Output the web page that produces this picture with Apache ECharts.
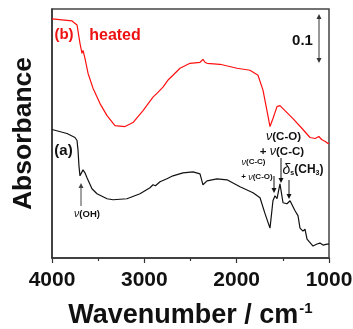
<!DOCTYPE html>
<html><head><meta charset="utf-8">
<script src="https://cdn.jsdelivr.net/npm/echarts@6/dist/echarts.min.js"></script>
<style>html,body{margin:0;padding:0;background:#fff}#c{width:353px;height:329px}</style>
</head><body><div id="c"></div>
<script>
// wavenumber (cm-1), absorbance
var heatedWn  = [4000,3783,3729,3697,3675,3664,3643,3610,3556,3480,3404,3318,3209,3123,3014,2906,2850,2798,2740,2690,2614,2505,2397,2365,2343,2321,2181,1996,1856,1769,1715,1672,1639,1607,1563,1531,1477,1390,1292,1206,1150,1130,1110,1098,1080,1065,1040,1011,1000];
var heatedAbs = [0.480,0.476,0.468,0.431,0.411,0.417,0.401,0.371,0.341,0.310,0.286,0.266,0.264,0.272,0.296,0.323,0.333,0.343,0.358,0.367,0.381,0.391,0.393,0.399,0.393,0.391,0.389,0.381,0.377,0.367,0.337,0.296,0.264,0.280,0.304,0.306,0.296,0.280,0.260,0.242,0.240,0.236,0.244,0.246,0.238,0.240,0.234,0.230,0.230];
var pristineWn  = [4000,3838,3751,3729,3718,3708,3697,3686,3664,3643,3621,3567,3513,3404,3339,3188,3047,2939,2906,2880,2830,2755,2690,2581,2473,2397,2365,2321,2213,2105,1964,1823,1747,1693,1639,1607,1585,1563,1531,1498,1455,1422,1401,1368,1336,1314,1282,1260,1238,1173,1130,1098,1065,1022,1000];
var pristineAbs = [0.258,0.250,0.242,0.236,0.216,0.185,0.165,0.169,0.177,0.171,0.161,0.139,0.129,0.119,0.117,0.119,0.129,0.141,0.147,0.145,0.153,0.159,0.165,0.171,0.173,0.169,0.147,0.155,0.159,0.157,0.143,0.131,0.121,0.089,0.060,0.115,0.125,0.119,0.149,0.111,0.109,0.115,0.111,0.095,0.085,0.060,0.054,0.058,0.038,0.024,0.028,0.030,0.026,0.028,0.028];
var xTicks = [1000, 4000, 1000]; // min, max, interval
var yRange = [0, 0.5];

function pairs(a, b){ return a.map(function(v,i){ return [v, b[i]]; }); }

var FF = 'Liberation Sans, Arial, sans-serif';
var chart = echarts.init(document.getElementById('c'));

function arrow(x, yTail, yHead, color){
  var dir = yHead > yTail ? 1 : -1;
  return [
    {type:'line', shape:{x1:x,y1:yTail,x2:x,y2:yHead - dir*4}, style:{stroke:color,lineWidth:1}},
    {type:'polygon', shape:{points:[[x-2.5,yHead-dir*5],[x+2.5,yHead-dir*5],[x,yHead]]}, style:{fill:color}}
  ];
}
function txt(t, x, y, size, color, extra){
  var s = {text:t, x:x, y:y, align:'center', verticalAlign:'middle', fontFamily:FF, fontWeight:'bold', fontSize:size, fill:color};
  if (extra) for (var k in extra) s[k]=extra[k];
  return {type:'text', style:s, z:10};
}

var g = [];
g.push(txt('(b)', 64, 35, 15, '#ee1111'));
g.push(txt('heated', 115, 36, 16, '#ee1111'));
g.push(txt('(a)', 63.5, 151, 15, '#111'));
g.push(txt('0.1', 302.5, 41, 15, '#111'));
g = g.concat(arrow(319, 38, 14, '#333')).concat(arrow(319, 38, 63, '#333'));
var nuRich = function(sz){ return { n:{fontStyle:'italic', fontWeight:'normal', fontSize:sz, fontFamily:FF} }; };
g.push(txt('{n|ν}(OH)', 87, 214, 9.5, '#111', {rich:nuRich(10.5)}));
g = g.concat(arrow(81, 206, 183, '#444'));
g.push(txt('{n|ν}(C-O)', 283.5, 137, 11.5, '#111', {rich:nuRich(12.5)}));
g.push(txt('+ {n|ν}(C-C)', 282, 152, 11.5, '#111', {rich:nuRich(12.5)}));
g = g.concat(arrow(281, 158, 183, '#111'));
g.push(txt('{n|ν}(C-C)', 253.5, 162, 8, '#111', {rich:nuRich(9)}));
g.push(txt('+ {n|ν}(C-O)', 257, 177, 8, '#111', {rich:nuRich(9)}));
g = g.concat(arrow(274, 176, 193, '#111'));
g.push(txt('{d|δ}{s|s}(CH{s|3})', 303, 170, 12, '#111', {rich:{
  d:{fontStyle:'italic', fontWeight:'normal', fontSize:14, fontFamily:FF},
  s:{fontSize:7, fontWeight:'bold', fontFamily:FF, verticalAlign:'bottom', padding:[6,0,0,0]}
}}));
g = g.concat(arrow(289, 180, 199, '#111'));

chart.setOption({
  animation:false,
  grid:{left:52, right:24, top:9, bottom:71, show:true, borderColor:'#444', borderWidth:1.5, containLabel:false, outerBoundsMode:'none'},
  xAxis:{
    type:'value', inverse:true, min:xTicks[0], max:xTicks[1], interval:xTicks[2],
    axisLine:{show:true, lineStyle:{color:'#333', width:1.5}},
    axisTick:{show:true, length:5, lineStyle:{color:'#333', width:1.2}},
    minorTick:{show:true, splitNumber:2, length:3, lineStyle:{color:'#333', width:1.2}},
    splitLine:{show:false},
    axisLabel:{margin:12, color:'#111', fontFamily:FF, fontWeight:'bold', fontSize:21, formatter:function(v){return String(v);}},
    name:'Wavenumber / cm{sup|-1}', nameLocation:'middle', nameGap:43,
    nameTextStyle:{color:'#111', fontFamily:FF, fontWeight:'bold', fontSize:27,
      rich:{sup:{fontSize:15, fontFamily:FF, fontWeight:'bold', color:'#111', verticalAlign:'top', padding:[0,0,14,1]}}}
  },
  yAxis:{
    type:'value', min:yRange[0], max:yRange[1],
    axisLine:{show:true, lineStyle:{color:'#333', width:1.5}},
    axisTick:{show:false}, axisLabel:{show:false}, splitLine:{show:false},
    name:'Absorbance', nameLocation:'middle', nameRotate:90, nameGap:15,
    nameTextStyle:{color:'#111', fontFamily:FF, fontWeight:'bold', fontSize:26.5}
  },
  series:[
    {type:'line', data:pairs(heatedWn, heatedAbs), showSymbol:false, lineStyle:{color:'#ff1010', width:1.2}, itemStyle:{color:'#ff1010'}},
    {type:'line', data:pairs(pristineWn, pristineAbs), showSymbol:false, lineStyle:{color:'#111', width:1.2}, itemStyle:{color:'#111'}}
  ],
  graphic:g
});
</script></body></html>
